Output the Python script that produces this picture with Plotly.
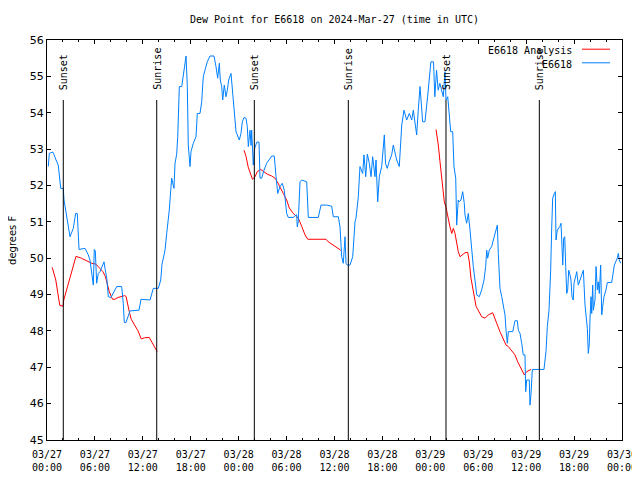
import pandas as pd
import plotly.graph_objects as go

BASE = pd.Timestamp("2024-03-27 00:00")

# ---- Data (hours after 2024-03-27 00:00 UTC, degrees F) ----
obs_hours = [0.16, 0.29, 0.71, 0.88, 1.13, 1.41, 1.72, 2.04, 2.13, 2.47, 2.69, 2.88, 3.29, 3.59, 3.79, 3.92,
             4.01, 4.76, 5.17, 5.38, 5.72, 5.80, 5.92, 6.05, 6.22, 6.42, 6.64, 7.14, 7.26, 7.48, 7.68, 8.01,
             8.73, 9.35, 9.55, 9.68, 9.89, 10.39, 11.52, 11.77, 12.9, 13.31, 13.94, 14.24, 14.40, 14.78,
             14.99, 15.19, 15.31, 15.61, 15.74, 15.9, 16.03, 16.24, 16.37, 16.57, 16.87, 17.07, 17.28, 17.41,
             17.57, 17.69, 17.91, 18.03, 18.32, 18.66, 18.82, 19.16, 19.37, 19.57, 19.78, 20.07, 20.41, 20.91,
             21.16, 21.37, 21.58, 21.70, 21.88, 22.0, 22.2, 22.41, 22.58, 22.75, 23.04, 23.2, 23.42, 23.67,
             24.08, 24.29, 24.46, 24.67, 24.92, 25.08, 25.21, 25.42, 25.55, 25.63, 25.83, 25.98, 26.26, 26.55,
             26.67, 26.88, 27.17, 27.51, 28.14, 28.46, 28.68, 28.89, 29.18, 29.46, 29.71, 30.01, 30.21, 30.84,
             31.26, 31.34, 31.46, 31.68, 31.89, 32.52, 32.72, 33.97, 34.31, 35.02, 35.65, 35.85, 36.48, 36.69,
             36.90, 37.10, 37.32, 37.44, 37.6, 37.94, 38.28, 38.48, 38.57, 38.69, 38.98, 39.19, 39.53, 39.69,
             39.91, 40.11, 40.36, 40.57, 40.78, 41.07, 41.2, 41.41, 41.61, 41.91, 42.24, 42.39, 42.61, 42.83,
             43.16, 43.36, 43.58, 43.79, 44.11, 44.42, 44.7, 45.04, 45.37, 45.67, 45.87, 46.08, 46.29, 46.49,
             46.71, 47.04, 47.33, 47.66, 47.86, 48.07, 48.4, 48.56, 48.78, 48.98, 49.19, 49.4, 49.62, 49.84,
             49.96, 50.18, 50.38, 50.55, 50.8, 50.96, 51.18, 51.3, 51.5, 51.59, 51.84, 52.05, 52.25, 52.34,
             52.55, 52.75, 52.97, 53.09, 53.38, 53.59, 53.81, 54.13, 54.43, 54.72, 54.93, 55.06, 55.18, 55.38,
             55.68, 55.89, 56.14, 56.39, 56.51, 56.72, 56.94, 57.14, 57.35, 57.48, 57.64, 57.77, 58.32, 58.6,
             58.89, 59.02, 59.23, 59.44, 59.64, 59.85, 59.94, 60.07, 60.39, 60.48, 60.61, 60.77, 62.23, 62.48,
             62.65, 62.86, 63.07, 63.2, 63.32, 63.53, 63.65, 63.74, 63.9, 64.24, 64.36, 64.49, 64.58, 64.7,
             64.83, 64.95, 65.08, 65.2, 65.33, 65.49, 65.61, 65.74, 65.9, 65.99, 66.12, 66.24, 66.33, 66.53,
             66.74, 66.95, 67.16, 67.37, 67.66, 67.78, 67.91, 67.99, 68.12, 68.21, 68.33, 68.41, 68.62, 68.75,
             68.91, 69.03, 69.16, 69.33, 69.46, 69.58, 69.75, 70.0, 70.16, 70.71, 70.91, 71.04, 71.41, 71.54,
             71.66, 71.84]
obs_values = [52.52, 52.88, 52.92, 52.85, 52.7, 52.56, 51.92, 51.92, 51.6, 51.14, 50.75, 50.59, 50.82, 51.23, 51.23, 50.73,
              50.24, 50.27, 50.09, 49.95, 49.49, 49.26, 50.24, 50.2, 49.31, 49.58, 49.63, 49.9, 49.72, 49.45, 48.94, 48.92,
              49.22, 49.22, 48.76, 48.23, 48.23, 48.55, 48.57, 48.87, 48.85, 49.17, 49.17, 49.4, 49.83, 50.22,
              50.68, 51.05, 51.32, 52.2, 52.06, 51.92, 52.61, 52.86, 53.34, 54.72, 54.72, 55.08, 55.4, 55.56,
              54.72, 53.11, 52.52, 52.93, 53.16, 53.34, 53.98, 53.98, 54.3, 54.99, 55.17, 55.4, 55.56, 55.56,
              55.27, 54.95, 55.36, 54.9, 54.72, 54.35, 54.76, 54.44, 54.62, 54.9, 55.08, 54.67, 53.89, 53.48,
              53.25, 53.43, 53.75, 53.87, 53.85, 53.62, 53.07, 53.52, 53.1, 53.52, 52.56, 53.0, 53.19, 53.19,
              52.2, 52.2, 52.42, 52.61, 52.81, 52.81, 52.24, 51.78, 51.97, 52.06, 51.87, 51.23, 51.12, 51.12,
              51.2, 50.86, 51.0, 52.1, 52.15, 52.1, 51.12, 51.12, 51.46, 51.46, 51.43, 51.14, 51.14, 50.86,
              50.04, 49.86, 50.59, 49.86, 49.81, 49.81, 50.04, 50.86, 51.0, 51.1, 51.69, 52.52, 52.33, 52.84,
              52.24, 52.86, 52.61, 52.24, 52.79, 52.24, 52.7, 51.55, 52.24, 52.52, 53.39, 52.6, 52.47, 52.65,
              52.84, 53.11, 52.88, 52.7, 52.52, 53.66, 54.07, 53.8, 53.98, 53.8, 54.07, 53.66, 53.39, 54.07,
              54.72, 53.75, 53.75, 54.44, 54.9, 55.4, 55.4, 54.44, 55.17, 54.62, 54.81, 54.58, 54.44, 55.13,
              54.35, 54.44, 53.8, 53.48, 53.48, 52.52, 52.2, 50.91, 51.6, 51.55, 51.6, 51.83, 51.51, 51.19,
              50.96, 51.23, 50.77, 50.41, 49.77, 49.4, 48.99, 48.94, 49.13, 49.4, 49.77, 50.22, 50.0, 50.22,
              50.32, 50.5, 50.73, 50.91, 50.13, 49.17, 48.94, 48.67, 48.44, 48.02, 47.66, 47.98, 47.98, 48.28,
              48.28, 48.02, 47.93, 47.66, 47.34, 47.34, 46.33, 46.65, 46.65, 45.96, 46.28, 46.94, 46.94, 47.43,
              48.12, 48.57, 49.67, 50.86, 51.65, 51.78, 51.83, 50.5, 50.77, 50.88, 50.96, 50.32, 49.81, 50.55,
              50.59, 49.77, 49.03, 49.13, 49.67, 49.54, 49.4, 48.94, 48.85, 49.31, 49.4, 49.54, 49.63, 49.26,
              49.4, 49.54, 49.67, 48.71, 48.07, 47.38, 47.66, 48.3, 48.94, 48.48, 49.26, 48.57, 48.85, 49.77,
              49.13, 49.35, 49.03, 49.81, 48.44, 48.67, 48.94, 49.13, 49.33, 49.33, 49.67, 49.81, 50.0, 50.13,
              49.95, 49.86]

# Analysis: three separate runs (None = gap)
ana_hours = [0.65, 1.1, 1.6, 2.0, 2.1, 2.47, 2.88, 3.29, 3.63, 4.3, 5.0, 5.6, 6.1, 6.6, 7.0, 7.3, 7.5, 7.8,
             8.2, 8.5, 8.9, 9.7, 9.9, 10.1, 10.3, 10.55, 11.0, 11.4, 11.8, 12.2, 12.8, 13.1, 13.4, 13.8,
             None,
             24.67, 24.92, 25.2, 25.5, 25.73, 26.05, 26.33, 26.76, 27.17, 27.59, 28.14, 28.55, 28.84, 29.18,
             29.59, 30.01, 30.34, 30.84, 31.47, 31.89, 32.31, 32.65, 34.94, 35.22, 35.65, 36.06, 36.48, 36.78,
             None,
             48.71, 49.0, 49.21, 49.42, 49.62, 49.75, 49.96, 50.25, 50.46, 50.68, 50.88, 51.09, 51.3, 51.5,
             51.72, 52.05, 52.34, 52.68, 52.88, 53.09, 53.31, 53.51, 53.72, 54.01, 54.43, 54.85, 55.26, 55.81,
             55.97, 56.31, 56.72, 57.14, 57.48, 57.77, 58.19, 58.6, 58.94, 59.23, 59.57, 59.77, 60.07, 60.39,
             60.61]
ana_values = [49.75, 49.4, 48.7, 48.68, 48.85, 49.13, 49.49, 49.81, 50.05, 50.0, 49.92, 49.86, 49.84, 49.72, 49.63, 49.5, 49.35, 49.08,
              48.87, 48.87, 48.92, 48.97, 48.95, 48.71, 48.53, 48.32, 48.16, 48.0, 47.78, 47.81, 47.82, 47.7, 47.57, 47.43,
              None,
              52.97, 52.8, 52.5, 52.33, 52.17, 52.24, 52.38, 52.44, 52.38, 52.31, 52.26, 52.2, 52.1, 51.97,
              51.78, 51.6, 51.38, 51.23, 51.1, 50.88, 50.64, 50.52, 50.52, 50.45, 50.39, 50.34, 50.27, 50.22,
              None,
              53.54, 53.11, 52.65, 52.24, 51.97, 51.55, 51.4, 51.05, 50.86, 50.68, 50.82, 50.68, 50.41, 50.18,
              50.04, 50.09, 50.15, 50.16, 49.9, 49.45, 49.22, 48.94, 48.68, 48.57, 48.39, 48.35, 48.44, 48.5,
              48.39, 48.21, 47.98, 47.75, 47.61, 47.57, 47.46, 47.34, 47.15, 47.02, 46.88, 46.79, 46.88, 46.92,
              46.94]

sun_hours = [2.04, 13.74, 25.96, 37.73, 49.96, 61.65]
sun_labels = ["Sunset", "Sunrise", "Sunset", "Sunrise", "Sunset", "Sunrise"]

tick_hours = [0, 6, 12, 18, 24, 30, 36, 42, 48, 54, 60, 66, 72]
tick_labels = ["03/27<br>00:00", "03/27<br>06:00", "03/27<br>12:00", "03/27<br>18:00",
               "03/28<br>00:00", "03/28<br>06:00", "03/28<br>12:00", "03/28<br>18:00",
               "03/29<br>00:00", "03/29<br>06:00", "03/29<br>12:00", "03/29<br>18:00",
               "03/30<br>00:00"]
y_ticks = list(range(45, 57))

series_names = ["E6618 Analysis", "E6618"]
series_colors = ["#ff0000", "#0080ff"]


def to_time(hours):
    return [None if h is None else BASE + pd.Timedelta(hours=h) for h in hours]


MONO = "DejaVu Sans Mono"
# The page body adds an 8px offset; size the figure so the plot frame lands where the reference's does.
FIG_W, FIG_H = 632, 472

fig = go.Figure()
fig.add_trace(go.Scatter(x=to_time(ana_hours), y=ana_values, mode="lines", name=series_names[0],
                         line=dict(color=series_colors[0], width=1), connectgaps=False))
fig.add_trace(go.Scatter(x=to_time(obs_hours), y=obs_values, mode="lines", name=series_names[1],
                         line=dict(color=series_colors[1], width=1)))

for h, lab in zip(sun_hours, sun_labels):
    t = BASE + pd.Timedelta(hours=h)
    fig.add_shape(type="line", xref="x", yref="paper", x0=t, x1=t, y0=0, y1=0.85,
                  line=dict(color="black", width=1))
    fig.add_annotation(x=t, xref="x", y=0.87, yref="paper", text=lab, showarrow=False,
                       textangle=-90, xanchor="center", yanchor="bottom",
                       font=dict(family=MONO, size=10, color="black"))

# legend (gnuplot style: text right-justified, sample to the right)
for i, (nm, col) in enumerate(zip(series_names, series_colors)):
    yy = 0.973 - i * 0.034
    fig.add_annotation(x=0.9165, y=yy, xref="paper", yref="paper", text=nm, showarrow=False,
                       xanchor="right", yanchor="middle", font=dict(family=MONO, size=10, color="black"))
    fig.add_shape(type="line", xref="paper", yref="paper", x0=0.9304, x1=0.9791, y0=yy + 0.004, y1=yy + 0.004,
                  line=dict(color=col, width=1))

fig.add_annotation(x=-0.061, y=0.5, xref="paper", yref="paper", text="degrees F", showarrow=False,
                   textangle=-90, xanchor="center", yanchor="middle",
                   font=dict(family="DejaVu Sans", size=10, color="black"))

fig.update_layout(
    width=FIG_W, height=FIG_H,
    margin=dict(l=39, r=18, t=32, b=40, autoexpand=False),
    paper_bgcolor="white", plot_bgcolor="white",
    showlegend=False,
    title=dict(text="Dew Point for E6618 on 2024-Mar-27 (time in UTC)", x=0.5, xref="paper",
               y=1 - 11 / FIG_H, yanchor="middle", font=dict(family=MONO, size=10, color="black")),
)
fig.update_xaxes(
    range=[BASE, BASE + pd.Timedelta(hours=72)], automargin=False,
    tickmode="array", tickvals=to_time(tick_hours), ticktext=tick_labels,
    ticks="inside", ticklen=4, tickcolor="black", mirror="ticks", ticklabelstandoff=5,
    showline=True, linecolor="black", linewidth=1, showgrid=False, zeroline=False,
    tickfont=dict(family=MONO, size=10, color="black"),
    minor=dict(tickmode="linear", tick0=BASE, dtick=2 * 3600000, ticks="inside", ticklen=2,
               tickcolor="black", showgrid=False),
)
fig.update_yaxes(
    range=[45, 56], tickmode="array", tickvals=y_ticks, automargin=False,
    ticks="inside", ticklen=4, tickcolor="black", mirror="ticks",
    showline=True, linecolor="black", linewidth=1, showgrid=False, zeroline=False,
    tickfont=dict(family="DejaVu Sans", size=11, color="black"),
)

fig.write_html("out.html")
